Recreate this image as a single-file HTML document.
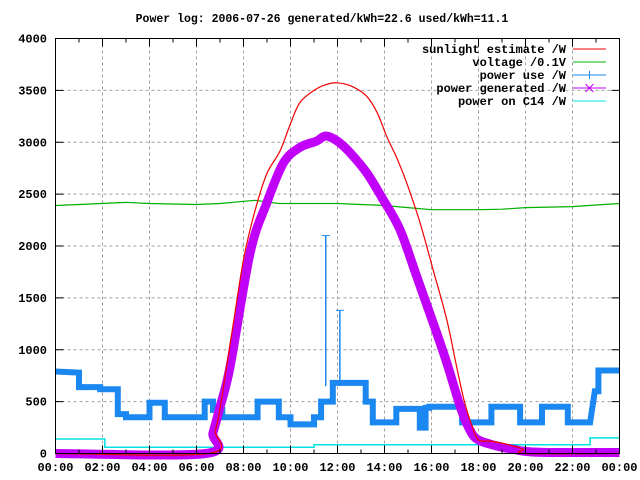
<!DOCTYPE html>
<html><head><meta charset="utf-8"><style>
body{margin:0;background:#fff}
svg{display:block}
text{font-family:"Liberation Mono","DejaVu Sans Mono",monospace;font-weight:bold;font-size:12px;fill:#000}
</style></head><body>
<svg id="chart" width="640" height="480" viewBox="0 0 640 480" xmlns="http://www.w3.org/2000/svg">
<text x="322" y="22" text-anchor="middle" style="font-size:11.5px">Power log: 2006-07-26 generated/kWh=22.6 used/kWh=11.1</text>
<g id="grid"></g>
<g id="series"></g>
<rect x="55.5" y="38.5" width="564" height="415" fill="none" stroke="#000"/>
<g id="axes"></g>
<g id="legend"></g>
</svg>
<script>
const yTicks=[0,500,1000,1500,2000,2500,3000,3500,4000];
const xTickHours=[0,2,4,6,8,10,12,14,16,18,20,22,24];
const xTickLabels=["00:00","02:00","04:00","06:00","08:00","10:00","12:00","14:00","16:00","18:00","20:00","22:00","00:00"];
const sunHours=[0,6.5,6.8,7.0,7.28,7.6,8.0,8.5,9.0,9.55,10.0,10.4,11.0,11.5,11.97,12.6,13.24,13.7,14.09,14.5,14.94,15.51,16.07,16.65,17.07,17.4,17.75,18.0,18.5,19.0,19.5,19.9,20.0,24];
const sunVals=[0,0,220,430,838,1300,1868,2350,2700,2913,3180,3383,3500,3555,3573,3540,3444,3280,3058,2860,2611,2225,1771,1289,838,500,250,130,120,100,70,40,0,0];
const voltHours=[0,1,3,4,6,7,8.5,9.5,11,12,13,14,15,16,17,18,19,20,21,22,23,24];
const voltVals=[2390,2400,2420,2410,2400,2410,2440,2410,2410,2410,2400,2390,2370,2350,2350,2350,2355,2370,2375,2380,2395,2410];
const useHours=[0,1.0,1.0,1.9,1.9,2.65,2.65,3.0,3.0,4.0,4.0,4.65,4.65,6.35,6.35,6.7,6.7,7.1,7.1,8.6,8.6,9.5,9.5,10.0,10.0,11.0,11.0,11.3,11.3,11.8,11.8,13.2,13.2,13.5,13.5,14.5,14.5,15.5,15.5,15.75,15.75,15.9,15.9,17.3,17.3,18.55,18.55,19.77,19.77,20.7,20.7,21.8,21.8,22.75,22.95,23.1,23.1,24];
const useVals=[790,780,640,640,620,620,380,380,350,350,490,490,350,350,500,500,420,420,350,350,500,500,350,350,280,280,350,350,500,500,680,680,500,500,300,300,430,430,250,250,440,440,450,450,300,300,450,450,300,300,450,450,300,300,600,600,800,800];
const spikeHours=[11.5,12.1];
const spikeVals=[2100,1380];
const genHours=[0,6.4,6.7,7.0,7.43,8.28,8.99,9.7,10.4,11.1,11.5,12.0,12.53,13.24,13.94,14.66,15.37,16.07,16.65,17.3,17.7,18.0,18.5,19.0,19.5,20.0,21.0,24];
const genVals=[0,0,200,450,838,1933,2415,2800,2950,3010,3060,3010,2900,2707,2447,2157,1707,1260,873,400,200,130,90,60,40,20,10,10];
const c14Hours=[0,2.1,2.1,11.0,11.0,22.75,22.75,24];
const c14Vals=[140,140,60,60,85,85,150,150];

const NS="http://www.w3.org/2000/svg";
const X0=55.5,X1=619.5,Y0=453.5,Y1=38.5;
const xs=h=>X0+(X1-X0)*h/24;
const ys=v=>Y0-(Y0-Y1)*v/4000;
function mk(tag,attrs,parent){const e=document.createElementNS(NS,tag);for(const k in attrs)e.setAttribute(k,attrs[k]);parent.appendChild(e);return e;}
const grid=document.getElementById('grid'),axes=document.getElementById('axes'),series=document.getElementById('series'),legend=document.getElementById('legend');

yTicks.forEach((v,i)=>{
  const y=ys(v);
  if(i>0&&i<yTicks.length-1){const g=mk('line',{x1:X0,x2:X1,y1:y,y2:y,stroke:'#a0a0a0','stroke-dasharray':'3,3'},grid);
  
  }
  const t=mk('line',{x1:X0,x2:X0+8,y1:y,y2:y,stroke:'#000'},axes);
  
  
  const t2=mk('line',{x1:X1-8,x2:X1,y1:y,y2:y,stroke:'#000'},axes);
  
  
  const l=mk('text',{x:47,y:y+4,'text-anchor':'end'},axes);l.textContent=v;
  
  
});
for(let h=0;h<=24;h++){
  const x=xs(h);const major=h%2===0;const len=major?8:4;
  const a=mk('line',{x1:x,x2:x,y1:Y0,y2:Y0-len,stroke:'#000'},axes);
  
  
  const b=mk('line',{x1:x,x2:x,y1:Y1,y2:Y1+len,stroke:'#000'},axes);
  
  
}
xTickHours.forEach((h,i)=>{
  const x=xs(h);
  if(i>0&&i<xTickHours.length-1){const g=mk('line',{x1:x,x2:x,y1:Y1,y2:Y0,stroke:'#a0a0a0','stroke-dasharray':'3,3'},grid);
  
  }
  const l=mk('text',{x:x,y:471,'text-anchor':'middle'},axes);l.textContent=xTickLabels[i];
  
  
});
function pts(H,V){return H.map((h,i)=>xs(h).toFixed(1)+','+ys(V[i]).toFixed(1)).join(' ');}
function smooth(H,V){
  const P=H.map((h,i)=>[xs(h),ys(V[i])]);
  let d='M'+P[0][0].toFixed(1)+' '+P[0][1].toFixed(1);
  for(let i=0;i<P.length-1;i++){
    const p0=P[Math.max(0,i-1)],p1=P[i],p2=P[i+1],p3=P[Math.min(P.length-1,i+2)];
    const c1=[p1[0]+(p2[0]-p0[0])/6,p1[1]+(p2[1]-p0[1])/6];
    const c2=[p2[0]-(p3[0]-p1[0])/6,p2[1]-(p3[1]-p1[1])/6];
    d+=`C${c1[0].toFixed(1)} ${c1[1].toFixed(1)} ${c2[0].toFixed(1)} ${c2[1].toFixed(1)} ${p2[0].toFixed(1)} ${p2[1].toFixed(1)}`;
  }
  return d;
}
const c14=mk('polyline',{points:pts(c14Hours,c14Vals),fill:'none',stroke:'#00e0e0','stroke-width':1.5},series);


const volt=mk('polyline',{points:pts(voltHours,voltVals),fill:'none',stroke:'#00b000','stroke-width':1.2},series);


const use=mk('polyline',{points:pts(useHours,useVals),fill:'none',stroke:'#1a88f0','stroke-width':6,'stroke-linejoin':'miter'},series);


spikeHours.forEach((h,i)=>{
  const s=mk('line',{x1:xs(h),x2:xs(h),y1:ys(650),y2:ys(spikeVals[i]),stroke:'#1a88f0','stroke-width':1.5},series);
  
  
  const c=mk('line',{x1:xs(h)-4,x2:xs(h)+4,y1:ys(spikeVals[i]),y2:ys(spikeVals[i]),stroke:'#1a88f0','stroke-width':1},series);
  
  
});
const gen=mk('path',{d:smooth(genHours,genVals),fill:'none',stroke:'#c000f8','stroke-width':9,'stroke-linejoin':'round'},series);


const sun=mk('path',{d:smooth(sunHours,sunVals),fill:'none',stroke:'#f00000','stroke-width':1.2},series);



const legNames=["sunlight estimate /W","voltage /0.1V","power use /W","power generated /W","power on C14 /W"];
const legColors=["#f00000","#00b000","#1a88f0","#c000f8","#00e0e0"];
legNames.forEach((n,i)=>{
  const y=49+i*13;
  const t=mk('text',{x:566,y:y+4,'text-anchor':'end'},legend);t.textContent=n;
  
  
  const l=mk('line',{x1:573,x2:606,y1:y,y2:y,stroke:legColors[i]},legend);
  
  
  if(i===2){const m=mk('line',{x1:589.5,x2:589.5,y1:y-4,y2:y+4,stroke:legColors[i]},legend);
    
    }
  if(i===3){const m=mk('path',{d:`M585.5 ${y-4}L593.5 ${y+4}M585.5 ${y+4}L593.5 ${y-4}`,stroke:legColors[i]},legend);
    
    }
});
</script>
</body></html>
